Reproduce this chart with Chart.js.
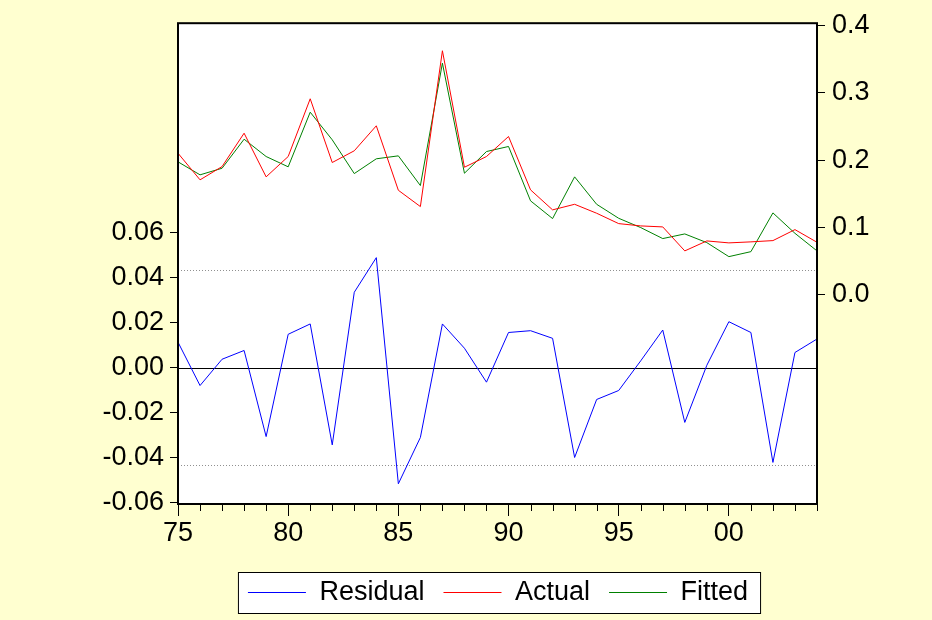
<!DOCTYPE html>
<html>
<head>
<meta charset="utf-8">
<script src="https://cdn.jsdelivr.net/npm/chart.js@4.4.0/dist/chart.umd.min.js"></script>
<style>
  body { margin: 0; background: #ffffd0; }
  canvas { display: block; }
</style>
</head>
<body>
<canvas id="residChart" width="932" height="620"></canvas>
<script>
const years = [1975, 1976, 1977, 1978, 1979, 1980, 1981, 1982, 1983, 1984,
               1985, 1986, 1987, 1988, 1989, 1990, 1991, 1992, 1993, 1994,
               1995, 1996, 1997, 1998, 1999, 2000, 2001, 2002, 2003, 2004];
const residual = [0.0113, -0.0080, 0.0037, 0.0076, -0.0307, 0.0148, 0.0194, -0.0344, 0.0335, 0.0489,
                  -0.0517, -0.0311, 0.0194, 0.0086, -0.0065, 0.0156, 0.0164, 0.0130, -0.0400, -0.0142,
                  -0.0102, 0.0030, 0.0167, -0.0244, 0.0010, 0.0204, 0.0156, -0.0422, 0.0067, 0.0127];
const actual = [0.2104, 0.1709, 0.1906, 0.2401, 0.1753, 0.2055, 0.2912, 0.1966, 0.2140, 0.2511,
                0.1554, 0.1312, 0.3625, 0.1896, 0.2055, 0.2352, 0.1560, 0.1263, 0.1346, 0.1213,
                0.1059, 0.1025, 0.1010, 0.0654, 0.0802, 0.0773, 0.0788, 0.0807, 0.0970, 0.0782];
const fitted = [0.1976, 0.1783, 0.1881, 0.2312, 0.2055, 0.1902, 0.2713, 0.2303, 0.1802, 0.2021,
                0.2065, 0.1624, 0.3441, 0.1807, 0.2129, 0.2204, 0.1397, 0.1134, 0.1753, 0.1346,
                0.1138, 0.1000, 0.0837, 0.0906, 0.0777, 0.0569, 0.0643, 0.1218, 0.0915, 0.0654];
const leftTicks = [-0.06, -0.04, -0.02, 0.00, 0.02, 0.04, 0.06];
const rightTicks = [0.0, 0.1, 0.2, 0.3, 0.4];
const residBand = 0.0432;

const tickFont = { family: "'Liberation Sans', Arial, sans-serif", size: 27 };
const isMajor = i => years[i] % 5 === 0;

// white plot area, legend box, zero line, dotted band, frame and minor x ticks
const residPlugin = {
  id: 'residPlugin',
  afterLayout(chart) {
    // legend sits under the plot, not the whole canvas
    const lg = chart.legend;
    lg.left += 32;
    lg.right += 32;
  },
  beforeDraw(chart) {
    const { ctx, chartArea: a } = chart;
    ctx.save();
    ctx.fillStyle = '#ffffff';
    ctx.fillRect(a.left, a.top, a.right - a.left, a.bottom - a.top);
    const hb = chart.legend.legendHitBoxes;
    if (hb && hb.length) {
      const first = hb[0], last = hb[hb.length - 1];
      const x0 = first.left - 10, x1 = last.left + last.width + 12;
      const y0 = first.top - 7, y1 = first.top + first.height + 7;
      ctx.fillRect(x0, y0, x1 - x0, y1 - y0);
      ctx.strokeStyle = '#000';
      ctx.lineWidth = 1;
      ctx.strokeRect(x0 + 0.5, y0 + 0.5, x1 - x0, y1 - y0);
    }
    ctx.restore();
  },
  beforeDatasetsDraw(chart) {
    const { ctx, chartArea: a, scales } = chart;
    ctx.save();
    ctx.lineWidth = 1;
    ctx.strokeStyle = '#000';
    let y = Math.round(scales.y.getPixelForValue(0)) + 0.5;
    ctx.beginPath(); ctx.moveTo(a.left, y); ctx.lineTo(a.right, y); ctx.stroke();
    ctx.strokeStyle = '#909090';
    ctx.setLineDash([1, 2]);
    [residBand, -residBand].forEach(v => {
      y = Math.round(scales.y.getPixelForValue(v)) + 0.5;
      ctx.beginPath(); ctx.moveTo(a.left, y); ctx.lineTo(a.right, y); ctx.stroke();
    });
    ctx.restore();
  },
  afterDraw(chart) {
    const { ctx, chartArea: a, scales } = chart;
    ctx.save();
    ctx.strokeStyle = '#000';
    ctx.lineWidth = 1;
    years.forEach((yr, i) => {
      if (isMajor(i)) return;
      const x = Math.round(scales.x.getPixelForValue(i)) + 0.5;
      ctx.beginPath(); ctx.moveTo(x, a.bottom); ctx.lineTo(x, a.bottom + 7); ctx.stroke();
    });
    ctx.lineWidth = 2;
    ctx.strokeRect(a.left, a.top, a.right - a.left, a.bottom - a.top);
    ctx.restore();
  }
};

new Chart(document.getElementById('residChart'), {
  type: 'line',
  data: {
    labels: years,
    datasets: [
      { label: 'Residual', data: residual, yAxisID: 'y', borderColor: '#0000ff', backgroundColor: '#0000ff' },
      { label: 'Actual', data: actual, yAxisID: 'y2', borderColor: '#ff0000', backgroundColor: '#ff0000' },
      { label: 'Fitted', data: fitted, yAxisID: 'y2', borderColor: '#008000', backgroundColor: '#008000' }
    ]
  },
  options: {
    responsive: false,
    animation: false,
    devicePixelRatio: 1,
    layout: { padding: { top: 22, left: 0, right: 0, bottom: 4 } },
    elements: {
      line: { borderWidth: 1, tension: 0 },
      point: { radius: 0, pointStyle: 'line' }
    },
    plugins: {
      tooltip: { enabled: false },
      legend: {
        position: 'bottom',
        labels: {
          font: tickFont,
          color: '#000',
          usePointStyle: true,
          pointStyle: 'line',
          pointStyleWidth: 58,
          padding: 19
        }
      }
    },
    scales: {
      x: {
        type: 'category',
        offset: false,
        grid: {
          drawOnChartArea: false, drawTicks: true, tickLength: 12,
          tickColor: c => isMajor(c.index) ? '#000' : 'rgba(0,0,0,0)'
        },
        border: { display: false },
        ticks: {
          autoSkip: false, maxRotation: 0, font: tickFont, color: '#000', padding: 1,
          callback: (v, i) => isMajor(i) ? String(years[i]).slice(2) : ''
        },
        afterFit: s => { s.height = 56; }
      },
      y: {
        position: 'left',
        min: -0.0607, max: 0.1532,
        grid: { drawOnChartArea: false, tickLength: 8, color: '#000' },
        border: { display: false },
        afterBuildTicks: s => { s.ticks = leftTicks.map(v => ({ value: v })); },
        ticks: { font: tickFont, color: '#000', padding: 6, callback: v => v.toFixed(2) },
        afterFit: s => { s.width = 178; }
      },
      y2: {
        position: 'right',
        min: -0.3103, max: 0.4034,
        grid: { drawOnChartArea: false, tickLength: 8, color: '#000' },
        border: { display: false },
        afterBuildTicks: s => { s.ticks = rightTicks.map(v => ({ value: v })); },
        ticks: { font: tickFont, color: '#000', padding: 7, callback: v => v.toFixed(1) },
        afterFit: s => { s.width = 115; }
      }
    }
  },
  plugins: [residPlugin]
});
</script>
</body>
</html>
